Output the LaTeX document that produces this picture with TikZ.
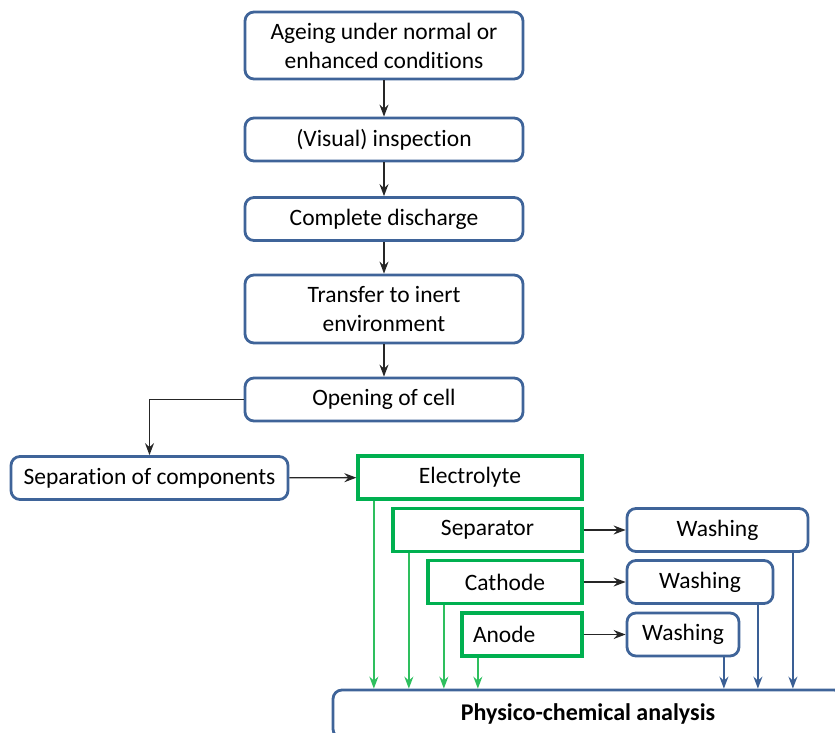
\documentclass[tikz,border=0pt]{standalone}
\usepackage{fontspec}
\setmainfont{Carlito}[Ligatures=NoCommon]
\usepackage{tikz}
\usetikzlibrary{arrows.meta,positioning}
\definecolor{boxblue}{RGB}{63,100,153}
\definecolor{arrblue}{RGB}{58,95,149}
\definecolor{boxgreen}{RGB}{0,176,80}
\definecolor{arrgreen}{RGB}{46,191,94}

\begin{document}
\begin{tikzpicture}[x=1pt, y=-1pt,
    every node/.style={font=\fontsize{23.5}{29}\selectfont},
    stagebox/.style={draw=boxblue, line width=2.8pt, rounded corners=9pt, align=center, inner sep=0pt, minimum height=43pt},
    partbox/.style={draw=boxgreen, line width=3.3pt, align=center, inner sep=0pt, minimum height=43pt},
    flow/.style={-{Stealth[length=12pt,width=9pt,inset=4pt]}, line width=1.4pt, black!85},
    garrow/.style={-{Stealth[length=12pt,width=9pt,inset=4pt]}, line width=1.4pt, arrgreen},
    barrow/.style={-{Stealth[length=12pt,width=9pt,inset=4pt]}, line width=1.4pt, arrblue}]
      \useasboundingbox (0,0) rectangle (835,733);

      %% main line
      \node (ageing) [stagebox, minimum width=278pt, minimum height=67pt] at (384,45.5) {Ageing under normal or\\enhanced conditions};
      \node (visual) [stagebox, minimum width=278pt] at (384,139.5) {(Visual) inspection};
      \node (disch) [stagebox, minimum width=278pt] at (384,219) {Complete discharge};
      \node (inert) [stagebox, minimum width=278pt, minimum height=68pt] at (384,309) {Transfer to inert\\environment};
      \node (open) [stagebox, minimum width=278pt] at (384,399.5) {Opening of cell};
      \node (separ) [stagebox, minimum width=277pt] at (149.5,478) {Separation of components};

      %% components
      \node (elec) [partbox, minimum width=224pt] at (470,477.5) {Electrolyte};
      \node (sepa) [partbox, minimum width=189pt] at (487.5,530) {Separator};
      \node (cath) [partbox, minimum width=154pt] at (505,582) {Cathode};
      \node (anod) [partbox, text width=98pt, inner xsep=11pt, align=left] at (522,634.5) {Anode};

      \node (wash1) [stagebox, minimum width=181pt] at (717.5,530) {Washing};
      \node (wash2) [stagebox, minimum width=146pt] at (700,582) {Washing};
      \node (wash3) [stagebox, minimum width=112pt] at (683,634.5) {Washing};

      \node (phys) [stagebox, minimum width=510pt, minimum height=48pt, font=\fontsize{24}{29}\selectfont\bfseries] at (588,714) {Physico-chemical analysis};

      \draw[flow] (ageing) -- (visual);
      \draw[flow] (visual) -- (disch);
      \draw[flow] (disch) -- (inert);
      \draw[flow] (inert) -- (open);
      \draw[flow] (open.west) -| (separ.north);
      \draw[flow] (separ) -- (elec);
      \draw[flow] (sepa) -- (wash1);
      \draw[flow] (cath) -- (wash2);
      \draw[flow] (anod) -- (wash3);

      \foreach \part in {elec,sepa,cath,anod}
        \draw[garrow] (\part.south west) ++(17.5,0) coordinate (top) -- (top |- phys.north);
      \foreach \wash in {wash1,wash2,wash3}
        \draw[barrow] (\wash.south east) ++(-16.5,0) coordinate (top) -- (top |- phys.north);

    \end{tikzpicture}
\end{document}
